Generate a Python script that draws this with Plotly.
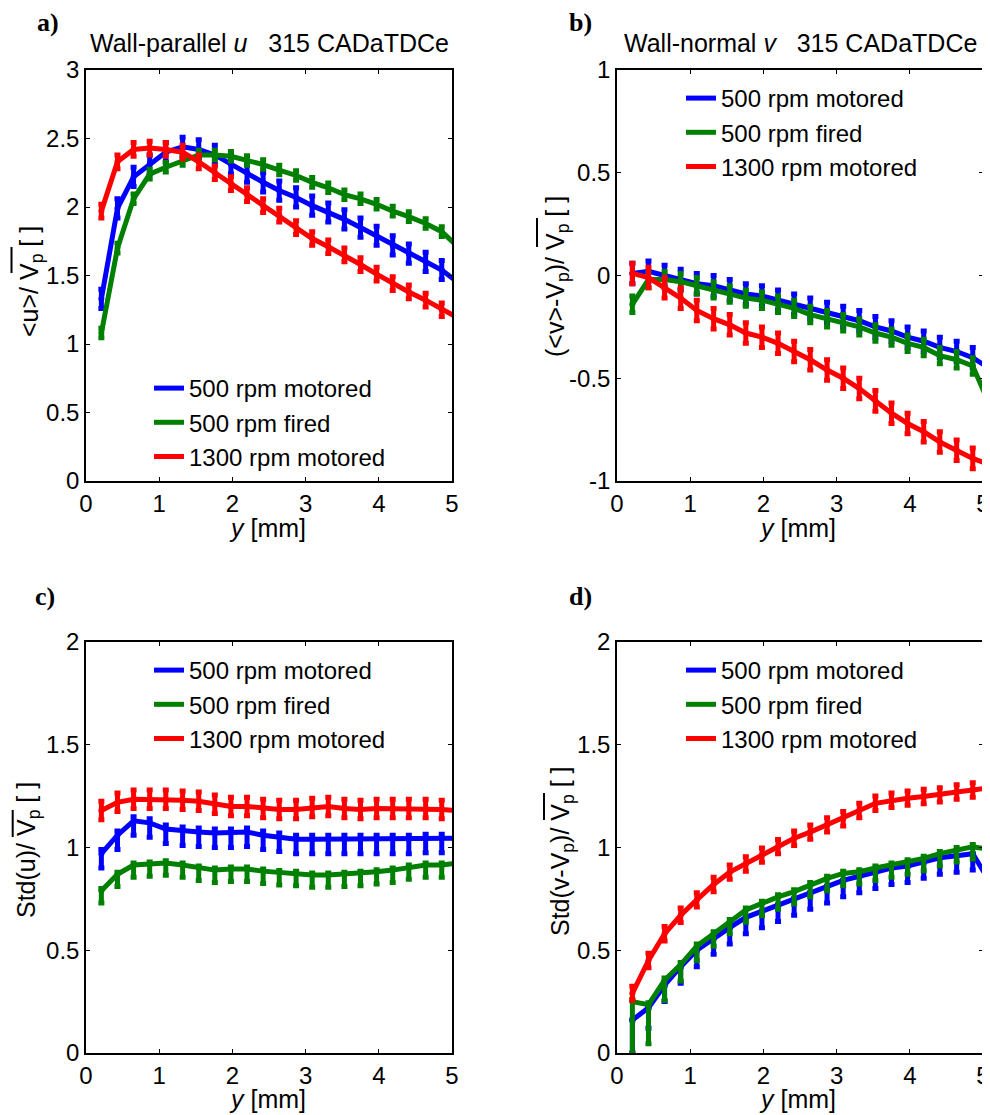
import plotly.graph_objects as go
from plotly.subplots import make_subplots

# Wall distance of the measured points [mm]; the last one lies just past the axis end.
X_PTS = [0.21, 0.43, 0.65, 0.87, 1.09, 1.32, 1.54, 1.76, 1.98, 2.20, 2.42,
         2.64, 2.87, 3.09, 3.31, 3.53, 3.75, 3.97, 4.19, 4.41, 4.64, 4.86]
X_LINE = X_PTS + [5.08]

NAMES = ['500 rpm motored', '500 rpm fired', '1300 rpm motored']
COLORS = ['#0000ff', '#008000', '#ff0000']

# a) <u>/Vp
A_BLUE = [1.33, 1.99, 2.22, 2.31, 2.40, 2.44, 2.42, 2.38, 2.31, 2.25, 2.18, 2.12,
          2.07, 2.01, 1.96, 1.91, 1.85, 1.79, 1.72, 1.66, 1.60, 1.54, 1.45]
A_GREEN = [1.08, 1.70, 2.06, 2.24, 2.29, 2.34, 2.38, 2.38, 2.37, 2.34, 2.31, 2.27,
           2.23, 2.18, 2.14, 2.09, 2.06, 2.02, 1.97, 1.93, 1.88, 1.82, 1.71]
A_RED = [1.97, 2.33, 2.42, 2.43, 2.42, 2.40, 2.33, 2.25, 2.17, 2.09, 2.01, 1.94,
         1.85, 1.77, 1.71, 1.65, 1.58, 1.51, 1.44, 1.38, 1.32, 1.25, 1.19]
A_ERR_PLUS = [0.07, 0.035, 0.05]
A_ERR_MINUS = [0.07, 0.035, 0.05]

# b) (<v>-Vp)/Vp
B_BLUE = [0.01, 0.02, 0.00, -0.02, -0.04, -0.05, -0.07, -0.09, -0.10, -0.12, -0.14, -0.16,
          -0.18, -0.20, -0.22, -0.25, -0.27, -0.30, -0.32, -0.35, -0.37, -0.40, -0.45]
B_GREEN = [-0.14, -0.02, -0.02, -0.03, -0.05, -0.07, -0.09, -0.11, -0.12, -0.14, -0.16, -0.19,
           -0.21, -0.23, -0.25, -0.28, -0.30, -0.33, -0.35, -0.39, -0.41, -0.44, -0.62]
B_RED = [0.01, -0.01, -0.06, -0.11, -0.17, -0.21, -0.24, -0.28, -0.30, -0.33, -0.37, -0.41,
         -0.46, -0.50, -0.55, -0.61, -0.67, -0.72, -0.76, -0.81, -0.85, -0.89, -0.92]
B_ERR_PLUS = [0.05, 0.04, 0.05]
B_ERR_MINUS = [0.05, 0.04, 0.05]

# c) Std(u)/Vp
C_BLUE = [0.97, 1.06, 1.13, 1.12, 1.09, 1.08, 1.075, 1.07, 1.07, 1.075, 1.06, 1.05,
          1.04, 1.04, 1.04, 1.04, 1.04, 1.04, 1.04, 1.04, 1.045, 1.045, 1.045]
C_GREEN = [0.79, 0.87, 0.915, 0.92, 0.925, 0.915, 0.90, 0.89, 0.895, 0.895, 0.885, 0.878,
           0.874, 0.866, 0.866, 0.87, 0.874, 0.882, 0.89, 0.905, 0.915, 0.915, 0.925]
C_RED = [1.18, 1.22, 1.235, 1.235, 1.235, 1.23, 1.225, 1.21, 1.20, 1.20, 1.19, 1.185,
         1.185, 1.195, 1.20, 1.19, 1.185, 1.19, 1.19, 1.19, 1.19, 1.185, 1.18]
C_ERR_PLUS = [0.02, 0.01, 0.045]
C_ERR_MINUS = [0.07, 0.06, 0.045]

# d) Std(v-Vp)/Vp
D_BLUE = [0.16, 0.22, 0.33, 0.42, 0.50, 0.56, 0.61, 0.66, 0.69, 0.72, 0.75, 0.78,
          0.81, 0.84, 0.86, 0.88, 0.90, 0.91, 0.93, 0.95, 0.96, 0.97, 0.84]
D_GREEN = [0.25, 0.235, 0.355, 0.43, 0.52, 0.58, 0.64, 0.696, 0.728, 0.76, 0.785, 0.82,
           0.85, 0.874, 0.882, 0.90, 0.915, 0.93, 0.947, 0.97, 0.99, 1.004, 0.99]
D_RED = [0.29, 0.45, 0.58, 0.67, 0.745, 0.82, 0.88, 0.92, 0.963, 1.004, 1.045, 1.075,
         1.11, 1.14, 1.18, 1.215, 1.23, 1.24, 1.248, 1.256, 1.27, 1.28, 1.29]
D_BLUE_ERR_MINUS = [0.16, 0.10, 0.08, 0.08, 0.08, 0.08, 0.08, 0.08, 0.08, 0.08, 0.08,
                    0.08, 0.08, 0.08, 0.08, 0.08, 0.08, 0.08, 0.08, 0.08, 0.08, 0.08]
D_GREEN_ERR_MINUS = [0.25, 0.19, 0.10, 0.08, 0.07, 0.06, 0.06, 0.06, 0.06, 0.06, 0.06,
                     0.06, 0.06, 0.06, 0.06, 0.06, 0.06, 0.06, 0.06, 0.06, 0.06, 0.06]
D_ERR_PLUS = [0.0, 0.01, 0.035]
D_ERR_MINUS = [D_BLUE_ERR_MINUS, D_GREEN_ERR_MINUS, 0.035]

# the page body has an 8px margin, so the figure is drawn 8px smaller and
# window pixel positions are shifted by that offset
OFF = 8
W, H = 990 - OFF, 1115 - OFF
FONT = 'Arial, Liberation Sans, sans-serif'


def px(x, y):
    # window pixel -> paper coordinates
    return (x - OFF) / W, 1 - (y - OFF) / H


def as_list(v):
    return v if isinstance(v, list) else [v] * len(X_PTS)


fig = make_subplots(rows=2, cols=2)

panels = [
    (1, 1, [A_BLUE, A_GREEN, A_RED], A_ERR_PLUS, A_ERR_MINUS, 'legend'),
    (1, 2, [B_BLUE, B_GREEN, B_RED], B_ERR_PLUS, B_ERR_MINUS, 'legend2'),
    (2, 1, [C_BLUE, C_GREEN, C_RED], C_ERR_PLUS, C_ERR_MINUS, 'legend3'),
    (2, 2, [D_BLUE, D_GREEN, D_RED], D_ERR_PLUS, D_ERR_MINUS, 'legend4'),
]

for row, col, series, eplus, eminus, leg in panels:
    for i, y in enumerate(series):
        fig.add_trace(go.Scatter(x=X_LINE, y=y, mode='lines', name=NAMES[i],
                                 line=dict(color=COLORS[i], width=5), legend=leg),
                      row=row, col=col)
        fig.add_trace(go.Scatter(x=X_PTS, y=y[:len(X_PTS)], mode='markers',
                                 marker=dict(size=0, color=COLORS[i]),
                                 error_y=dict(type='data', symmetric=False,
                                              array=as_list(eplus[i]),
                                              arrayminus=as_list(eminus[i]),
                                              color=COLORS[i], thickness=5, width=3),
                                 showlegend=False, hoverinfo='skip'),
                      row=row, col=col)

# axes geometry (window pixels)
xl0, _ = px(86, 0)
xl1, _ = px(452, 0)
xr0, _ = px(617, 0)
xr1, _ = px(983, 0)
_, yt0 = px(0, 481)
_, yt1 = px(0, 70)
_, yb0 = px(0, 1053)
_, yb1 = px(0, 642)

axis_common = dict(showline=True, linewidth=1.5, linecolor='black', mirror='ticks',
                   ticks='inside', ticklen=4, tickwidth=1, tickcolor='black',
                   showgrid=False, zeroline=False, automargin=False,
                   tickfont=dict(family=FONT, size=24, color='black'))

fig.update_xaxes(range=[0, 5], tickvals=[0, 1, 2, 3, 4, 5], **axis_common)
fig.update_yaxes(**axis_common)
fig.update_layout(
    xaxis=dict(domain=[xl0, xl1]), xaxis2=dict(domain=[xr0, xr1]),
    xaxis3=dict(domain=[xl0, xl1]), xaxis4=dict(domain=[xr0, xr1]),
    yaxis=dict(domain=[yt0, yt1], range=[0, 3], tickvals=[0, 0.5, 1, 1.5, 2, 2.5, 3]),
    yaxis2=dict(domain=[yt0, yt1], range=[-1, 1], tickvals=[-1, -0.5, 0, 0.5, 1],
                ticktext=['-1', '-0.5', '0', '0.5', '1']),
    yaxis3=dict(domain=[yb0, yb1], range=[0, 2], tickvals=[0, 0.5, 1, 1.5, 2]),
    yaxis4=dict(domain=[yb0, yb1], range=[0, 2], tickvals=[0, 0.5, 1, 1.5, 2]),
)

# legends
leg_common = dict(xanchor='left', yanchor='top', bgcolor='rgba(0,0,0,0)',
                  borderwidth=0, font=dict(family=FONT, size=24, color='black'),
                  tracegroupgap=0)
legpos = {'legend': (149, 366), 'legend2': (681, 76),
          'legend3': (149, 648), 'legend4': (681, 648)}
for k, (lx, ly) in legpos.items():
    x, y = px(lx, ly)
    fig.update_layout({k: dict(x=x, y=y, **leg_common)})

ann = []


def text(s, x, y, size=25, angle=0, fam=FONT):
    xx, yy = px(x, y)
    ann.append(dict(text=s, x=xx, y=yy, xref='paper', yref='paper', showarrow=False,
                    xanchor='center', yanchor='middle', textangle=angle,
                    font=dict(family=fam, size=size, color='black')))


SP = '\u00a0'
text('Wall-parallel <i>u</i>' + SP * 3 + '315 CADaTDCe', 269, 43)
text('Wall-normal <i>v</i>' + SP * 3 + '315 CADaTDCe', 800, 43)
serif = 'Times New Roman, Liberation Serif, serif'
text('<b>a)</b>', 48, 22, size=26, fam=serif)
text('<b>b)</b>', 580, 22, size=26, fam=serif)
text('<b>c)</b>', 45, 596, size=26, fam=serif)
text('<b>d)</b>', 580, 596, size=26, fam=serif)
for cx in (267, 797):
    text('<i>y</i> [mm]', cx, 528)
    text('<i>y</i> [mm]', cx, 1099)
text('&lt;u&gt;/ V<sub>p</sub> [ ]', 31, 282, angle=-90)
text('(&lt;v&gt;-V<sub>p</sub>)/ V<sub>p</sub> [ ]', 557, 277, angle=-90)
text('Std(u)/ V<sub>p</sub> [ ]', 28, 850, angle=-90)
text('Std(v-V<sub>p</sub>)/ V<sub>p</sub> [ ]', 562, 851, angle=-90)

# overlines on the V_p of the y labels
shapes = []
for x, y0, y1 in [(11.5, 247, 273), (537, 218, 247), (12.7, 810, 837), (544, 793, 820)]:
    xa, ya = px(x, y0)
    _, yb = px(x, y1)
    shapes.append(dict(type='line', xref='paper', yref='paper', x0=xa, x1=xa, y0=ya, y1=yb,
                       line=dict(color='black', width=2)))

fig.update_layout(width=W, height=H, margin=dict(l=0, r=0, t=0, b=0, autoexpand=False),
                  paper_bgcolor='white', plot_bgcolor='white',
                  annotations=ann, shapes=shapes, showlegend=True)

fig.write_html('out.html')
